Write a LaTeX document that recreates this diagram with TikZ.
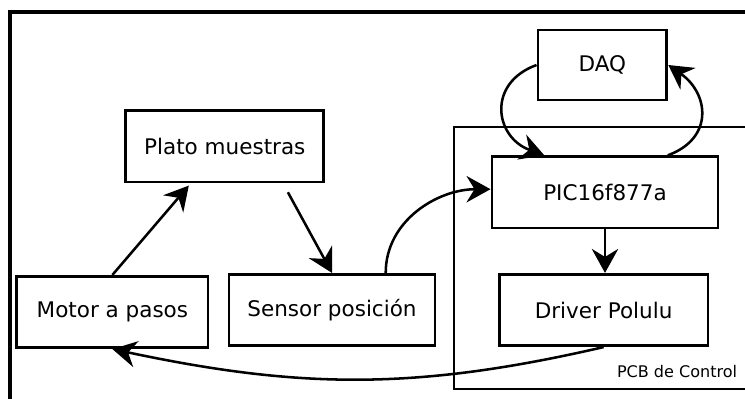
\documentclass[tikz,border=0pt]{standalone}
\usepackage{fontspec}
\setmainfont{DejaVu Sans}
\usetikzlibrary{arrows.meta,positioning,calc}

\begin{document}
\begin{tikzpicture}[
    block/.style={draw, line width=2.1pt, inner sep=0pt, minimum height=1.78cm, font=\fontsize{15.3}{18}\selectfont},
    flow/.style={line width=1.8pt, -{Stealth[length=6mm, width=6.6mm, inset=2mm]}}
]
    % Page frame (only top and left edges show)
    \useasboundingbox (0,0) rectangle (18.625,9.95);
    \clip (0,0) rectangle (18.625,9.95);
    \draw[line width=2.7pt] (0.25,-0.5) -- (0.25,9.65) -- (19,9.65);

    % PCB area
    \draw[line width=2.1pt] (11.35,0.225) rectangle (19,6.775);
    \node[anchor=east, font=\fontsize{11.4}{13}\selectfont] (pcb) at (18.55,0.65) {PCB de Control};

    % Blocks
    \node[block, minimum width=4.95cm] (plato) at (5.62,6.29) {Plato muestras};
    \node[block, minimum width=4.78cm] (motor) at (2.81,2.15) {Motor a pasos};
    \node[block, minimum width=5.15cm] (sensor) at (8.3,2.2) {Sensor posición};
    \node[block, minimum width=3.22cm, minimum height=1.75cm] (daq) at (15.06,8.325) {DAQ};
    \node[block, minimum width=5.65cm] (pic) at (15.125,5.14) {PIC16f877a};
    \node[block, minimum width=5.22cm] (driver) at (15.09,2.2) {Driver Polulu};

    % Connections
    \draw[flow, shorten >=2pt] (motor.north) -- ($(plato.south west)!0.33!(plato.south east)$);
    \draw[flow, shorten <=0.25cm] ($(plato.south west)!0.79!(plato.south east)$) -- (sensor.north);
    \draw[flow] ($(sensor.north west)!0.757!(sensor.north east)$) to[out=90, in=180] ($(pic.west)+(0,0.08)$);
    \draw[flow] (daq.west) to[out=200, in=160, looseness=1.5] ($(pic.north west)!0.235!(pic.north east)$);
    \draw[flow] ($(pic.north west)!0.774!(pic.north east)$) to[out=20, in=-35, looseness=1.4] (daq.east);
    \draw[flow] (pic.south) -- (pic.south |- driver.north);
    \draw[flow] (driver.south) to[out=193, in=-12] (motor.south);
\end{tikzpicture}
\end{document}
